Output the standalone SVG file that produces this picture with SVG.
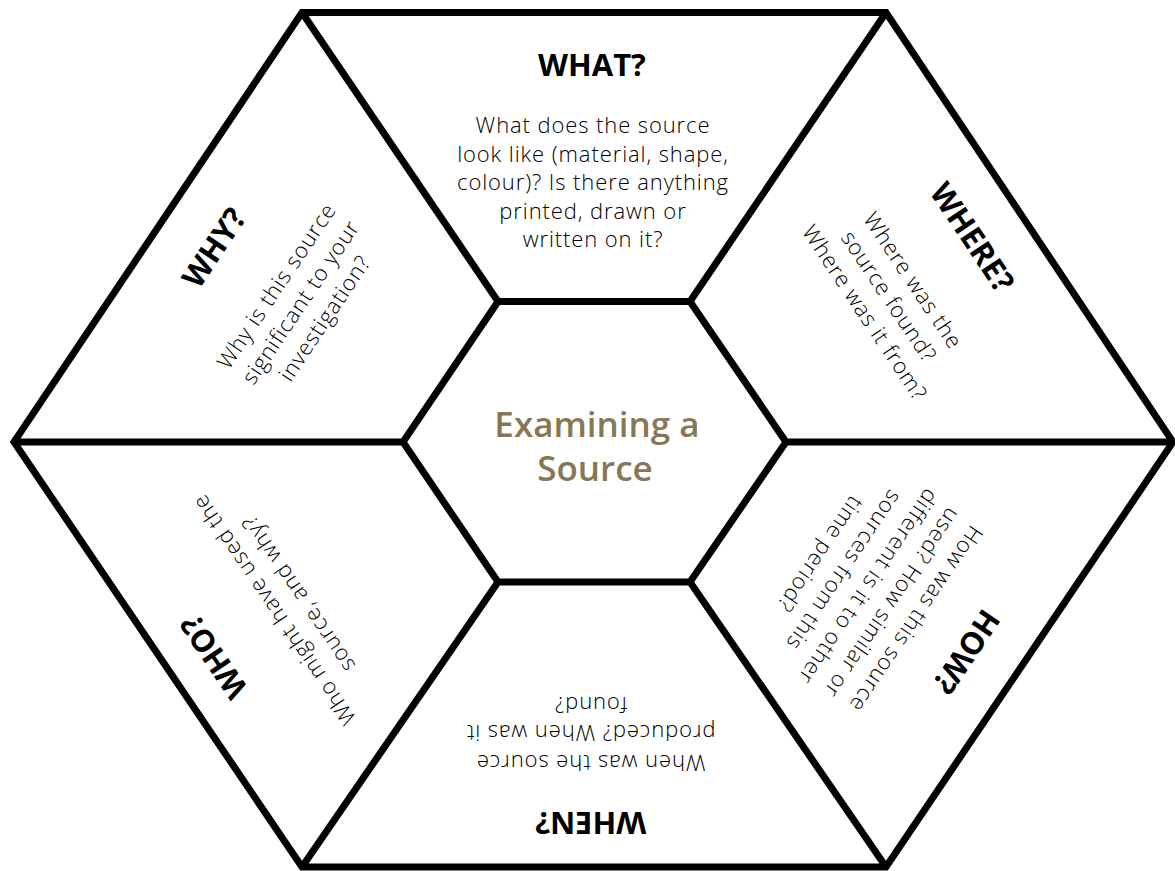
<svg xmlns="http://www.w3.org/2000/svg" width="1175" height="871" viewBox="0 0 1175 871">
  <style>
    .frame { fill: none; stroke: #000; stroke-width: 7; stroke-linejoin: miter; }
    .spoke { stroke: #000; stroke-width: 7; stroke-linecap: butt; }
    .head { font-family: "Open Sans", "Liberation Sans", sans-serif; font-weight: 700; font-size: 31px; fill: #000; text-anchor: middle; }
    .body { font-family: "Open Sans", "Liberation Sans", sans-serif; font-weight: 300; font-size: 22px; fill: #000; text-anchor: middle; letter-spacing: 0.9px; }
    .title { font-family: "Open Sans", "Liberation Sans", sans-serif; font-weight: 600; font-size: 35px; fill: #877753; text-anchor: middle; }
  </style>
  <rect width="1175" height="871" fill="#fff"/>

  <g id="connectors">
    <line class="spoke" x1="498" y1="301.5" x2="302" y2="12.5"/>
    <line class="spoke" x1="690" y1="301.5" x2="886" y2="12.5"/>
    <line class="spoke" x1="786" y1="442" x2="1173" y2="442"/>
    <line class="spoke" x1="690" y1="582" x2="886" y2="867"/>
    <line class="spoke" x1="498" y1="582" x2="302" y2="867"/>
    <line class="spoke" x1="403" y1="442" x2="14" y2="442"/>
  </g>

  <g id="outer-frame">
    <polygon class="frame" points="302,12.5 886,12.5 1173,442 886,867 302,867 14,442"/>
  </g>

  <g id="center">
    <polygon class="frame" points="498,301.5 690,301.5 786,442 690,582 498,582 403,442"/>
    <text class="title" x="597" y="437">Examining a</text>
    <text class="title" x="595" y="481">Source</text>
  </g>

  <g id="what">
    <text class="head" x="592" y="76">WHAT?</text>
    <text class="body" x="593" y="133">What does the source</text>
    <text class="body" x="593" y="161.5">look like (material, shape,</text>
    <text class="body" x="593" y="190">colour)? Is there anything</text>
    <text class="body" x="593" y="218.5">printed, drawn or</text>
    <text class="body" x="593" y="247">written on it?</text>
  </g>

  <g id="where" transform="translate(887.5,297.5) rotate(56.25)">
    <text class="head" x="-3" y="-93">WHERE?</text>
    <text class="body" x="0" y="-23">Where was the</text>
    <text class="body" x="0" y="6">source found?</text>
    <text class="body" x="0" y="35">Where was it from?</text>
  </g>

  <g id="how" transform="translate(866.7,585.8) rotate(124.03)">
    <text class="head" x="-1" y="-108.5">HOW?</text>
    <text class="body" x="0" y="-52">How was this source</text>
    <text class="body" x="0" y="-23">used? How similar or</text>
    <text class="body" x="0" y="6">different is it to other</text>
    <text class="body" x="0" y="35">sources from this</text>
    <text class="body" x="0" y="64">time period?</text>
  </g>

  <g id="when" transform="translate(590.7,731) rotate(180)">
    <text class="head" x="0" y="-81.3">WHEN?</text>
    <text class="body" x="0" y="-23.5">When was the source</text>
    <text class="body" x="0" y="6">produced? When was it</text>
    <text class="body" x="0" y="34.5">found?</text>
  </g>

  <g id="who" transform="translate(287.5,600.8) rotate(-124.1)">
    <text class="head" x="-5" y="-81.3">WHO?</text>
    <text class="body" x="0" y="-8.5">Who might have used the</text>
    <text class="body" x="0" y="20.5">source, and why?</text>
  </g>

  <g id="why" transform="translate(302,303) rotate(-56.16)">
    <text class="head" x="-3" y="-93">WHY?</text>
    <text class="body" x="0" y="-23">Why is this source</text>
    <text class="body" x="0" y="6">significant to your</text>
    <text class="body" x="0" y="35">investigation?</text>
  </g>
</svg>
